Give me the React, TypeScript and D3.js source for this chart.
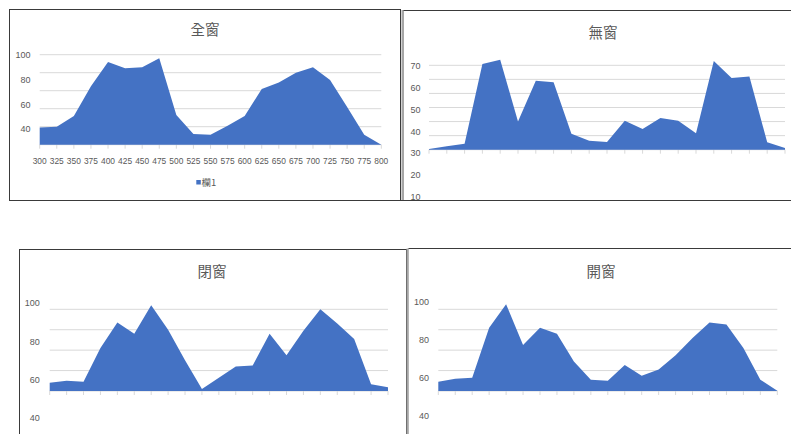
import React from "react";
import * as d3 from "d3";

// ---- data ----
const categories = [300, 325, 350, 375, 400, 425, 450, 475, 500, 525, 550, 575, 600, 625, 650, 675, 700, 725, 750, 775, 800];

const allWindow = [19, 20, 32, 65, 92, 85, 86, 96, 33, 12, 11, 21, 32, 62, 69, 80, 86, 72, 42, 11, 0];
const noWindow = [0.5, 2.4, 4.3, 61, 64, 20, 49, 48, 11.4, 6.4, 5.5, 20.6, 14.7, 22.5, 20.6, 11.7, 63, 51, 52, 5.3, 1.2];
const closedWindow = [8, 10, 9, 42, 67, 56, 84, 60, 30, 2, 13, 24, 25, 56, 35, 59, 80, 66, 51, 6.6, 3.6];
const openWindow = [9, 12, 13, 62, 85, 45, 62, 56, 29, 11, 10, 25.5, 15, 21, 35, 52, 67, 65, 42, 11, 0.3];

const gridAll = [20, 40, 60, 80, 100];
const gridNo = [10, 20, 30, 40, 50, 60];
const gridClosed = [20, 40, 60, 80];
const gridOpen = [20, 40, 60, 80];

const labelsAll = [100, 80, 60, 40];
const labelsNo = [70, 60, 50, 40, 30, 20, 10];
const labelsClosed = [100, 80, 60, 40];
const labelsOpen = [100, 80, 60, 40];

const titles = ["全窗", "無窗", "閉窗", "開窗"];
const legendLabel = "欄1";

const FILL = "#4472C4";
const TEXT = "#595959";
const GRID = "#d9d9d9";
const FONT = "'Liberation Sans', Arial, 'Noto Sans CJK TC', sans-serif";
const CJK = "'Noto Sans CJK TC', 'Noto Sans CJK SC', sans-serif";

type PanelProps = {
  title: string;
  titleX: number;
  titleY: number;
  values: number[];
  xRange: [number, number];
  yDomainMax: number;
  yRange: [number, number];
  grid: number[];
  labels: number[];
  labelDomain: [number, number];
  labelRange: [number, number];
  labelX: number;
  showXLabels?: boolean;
  xLabelY?: number;
};

function Panel(p: PanelProps) {
  const x = d3.scalePoint<number>().domain(categories).range(p.xRange);
  const y = d3.scaleLinear().domain([0, p.yDomainMax]).range(p.yRange);
  const ly = d3.scaleLinear().domain(p.labelDomain).range(p.labelRange);
  const pts = categories.map((c, i) => ({ c, v: p.values[i] }));
  const area = d3
    .area<{ c: number; v: number }>()
    .x((d) => x(d.c) as number)
    .y0(y(0))
    .y1((d) => y(d.v));
  const [x0, x1] = p.xRange;
  return (
    <g>
      <text x={p.titleX} y={p.titleY} dy="0.35em" textAnchor="middle" fontFamily={CJK} fontSize={14.5} fill={TEXT}>
        {p.title}
      </text>
      {p.grid.map((g) => (
        <line key={g} x1={x0} x2={x1} y1={y(g)} y2={y(g)} stroke={GRID} strokeWidth={1} />
      ))}
      {p.labels.map((l) => (
        <text key={l} x={p.labelX} y={ly(l)} dy="0.35em" textAnchor="end" fontFamily={FONT} fontSize={9} fill={TEXT}>
          {l}
        </text>
      ))}
      {categories.map((c) => (
        <line key={c} x1={x(c)} x2={x(c)} y1={y(0)} y2={y(0) + 4} stroke={GRID} strokeWidth={1} />
      ))}
      <line x1={x0} x2={x1} y1={y(0)} y2={y(0)} stroke={GRID} strokeWidth={1} />
      <path d={area(pts) || ""} fill={FILL} />
      {p.showXLabels &&
        categories.map((c) => (
          <text
            key={c}
            x={x(c)}
            y={p.xLabelY}
            dy="0.35em"
            textAnchor="middle"
            fontFamily={FONT}
            fontSize={9}
            fill={TEXT}
            textLength={14}
            lengthAdjust="spacingAndGlyphs"
          >
            {c}
          </text>
        ))}
    </g>
  );
}

export default function App() {
  return (
    <svg
      width={791}
      height={434}
      style={{ position: "absolute", left: 0, top: 0, background: "#fff" }}
    >
      <rect x={0} y={0} width={791} height={434} fill="#fff" />
      {/* panel frames */}
      <rect x={9.5} y={9.5} width={391} height={191} fill="none" stroke="#3a3a3a" strokeWidth={1} />
      <rect x={401.5} y={10} width={2.5} height={191} fill="#a6a6a6" />
      <line x1={403.5} x2={791} y1={10.5} y2={10.5} stroke="#3a3a3a" strokeWidth={1} />
      <line x1={401} x2={791} y1={200.5} y2={200.5} stroke="#3a3a3a" strokeWidth={1} />
      <rect x={19.5} y={249.5} width={387} height={200} fill="none" stroke="#3a3a3a" strokeWidth={1} />
      <rect x={406.5} y={248.5} width={2.3} height={200} fill="#a6a6a6" />
      <line x1={408.5} x2={791} y1={248.5} y2={248.5} stroke="#3a3a3a" strokeWidth={1} />

      <Panel
        title={titles[0]}
        titleX={205}
        titleY={29.5}
        values={allWindow}
        xRange={[39.7, 381.3]}
        yDomainMax={100}
        yRange={[144.7, 54.7]}
        grid={gridAll}
        labels={labelsAll}
        labelDomain={[40, 100]}
        labelRange={[129.3, 55]}
        labelX={30.5}
        showXLabels
        xLabelY={160.7}
      />
      {/* legend */}
      <rect x={196.3} y={180} width={4.5} height={4.5} fill={FILL} />
      <text x={201.5} y={182.2} dy="0.35em" fontFamily={CJK} fontSize={9.5} fill={TEXT}>
        {legendLabel}
      </text>

      <Panel
        title={titles[1]}
        titleX={603}
        titleY={33}
        values={noWindow}
        xRange={[429, 785]}
        yDomainMax={60}
        yRange={[149.7, 65.3]}
        grid={gridNo}
        labels={labelsNo}
        labelDomain={[10, 70]}
        labelRange={[196.7, 66]}
        labelX={420.5}
      />
      <Panel
        title={titles[2]}
        titleX={212}
        titleY={272.3}
        values={closedWindow}
        xRange={[49.7, 388]}
        yDomainMax={80}
        yRange={[391, 309.3]}
        grid={gridClosed}
        labels={labelsClosed}
        labelDomain={[40, 100]}
        labelRange={[418.3, 303.3]}
        labelX={39.8}
      />
      <Panel
        title={titles[3]}
        titleX={601}
        titleY={271.7}
        values={openWindow}
        xRange={[438.3, 777.3]}
        yDomainMax={80}
        yRange={[391, 309.3]}
        grid={gridOpen}
        labels={labelsOpen}
        labelDomain={[40, 100]}
        labelRange={[416, 302.3]}
        labelX={429}
      />
    </svg>
  );
}
